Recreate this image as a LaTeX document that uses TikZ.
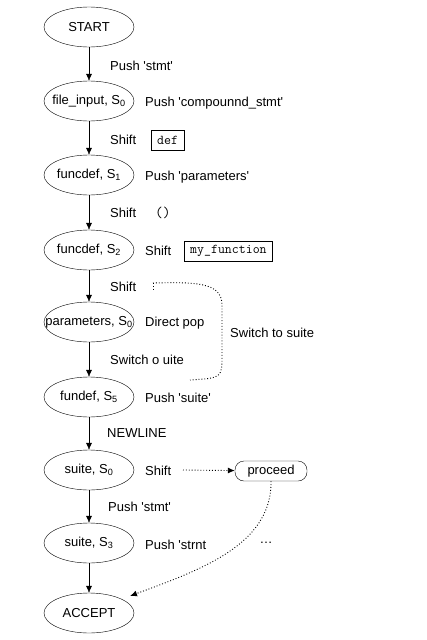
\documentclass[tikz,border=0pt]{standalone}
\usepackage{fontspec}
\setmainfont{Liberation Sans}
\usetikzlibrary{shapes.geometric,arrows.meta}
\newcommand{\sq}{\textquotesingle}

\tikzset{
  state/.style={ellipse,draw,minimum width=90pt,minimum height=40pt,inner sep=0pt},
  act/.style={anchor=west,inner sep=0pt},
  tok/.style={draw,anchor=west,font=\fontsize{13.5}{15}\ttfamily,minimum height=20pt,inner xsep=6pt,inner ysep=0pt},
}

\begin{document}
\begin{tikzpicture}[x=1pt,y=-1pt,>={Latex[length=7pt,width=6pt]},font=\fontsize{13}{15}\selectfont]
\useasboundingbox (0,0) rectangle (427,640);
% states
\node[state](1) at (89,27) {\makebox[0pt]{START}};
\node[state](2) at (89,101) {\makebox[0pt]{file\_input, S\textsubscript{0}}};
\node[state](3) at (89,175) {\makebox[0pt]{funcdef, S\textsubscript{1}}};
\node[state](4) at (89,250) {\makebox[0pt]{funcdef, S\textsubscript{2}}};
\node[state](5) at (89,322) {\makebox[0pt]{parameters, S\textsubscript{0}}};
\node[state](6) at (89,397) {\makebox[0pt]{fundef, S\textsubscript{5}}};
\node[state](7) at (89,470) {\makebox[0pt]{suite, S\textsubscript{0}}};
\node[state](8) at (89,543) {\makebox[0pt]{suite, S\textsubscript{3}}};
\node[state](9) at (89,613) {\makebox[0pt]{ACCEPT}};
\foreach \a/\b in {1/2,2/3,3/4,4/5,5/6,6/7,7/8,8/9}
  \draw[->] (\a) -- (\b);
% labels on the arrows
\node[act](e1) at (110,66) {Push \sq stmt\sq};
\node[act](e2) at (110,140) {Shift};
\node[act](e3) at (110,213) {Shift};
\node[act](e4) at (110,287) {Shift};
\node[act](e5) at (110,360) {Switch o uite};
\node[act](e6) at (107,433) {NEWLINE};
\node[act](e7) at (108,507) {Push \sq stmt\sq};
% labels beside the states
\node[act](a2) at (145,103) {Push \sq compounnd\_stmt\sq};
\node[act](a3) at (145,177) {Push \sq parameters\sq};
\node[act](a4) at (145,251) {Shift};
\node[act](a5) at (145,323) {Direct pop};
\node[act](a6) at (145,398) {Push \sq suite\sq};
\node[act](a7) at (145,471) {Shift};
\node[act](a8) at (145,545) {Push \sq strnt};
% tokens
\node[tok](t1) at (151,140) {def};
\node[act,font=\fontsize{15}{17}\ttfamily](t2) at (155,213) {()};
\node[tok](t3) at (184,251) {my\_function};
\node[act](sw) at (230,333) {Switch to suite};
\node[draw,rounded corners=9pt,minimum width=72pt,minimum height=20pt,inner sep=0pt](p) at (271,471) {proceed};
\node(dots) at (266,543) {\dots};
% dotted paths
\coordinate (c1) at (153,283);
\coordinate (c2) at (190,380);
\coordinate (c3) at (183,470);
\coordinate (c4) at (130,596);
\draw[dotted,line width=0.9pt] (c1) -- ++(0,7);
\draw[dotted,line width=0.9pt] (c1) .. controls (195,282) and (222,282) .. (222,305) -- (222,355) .. controls (222,378) .. (c2);
\draw[dotted,line width=0.9pt,->] (c3) -- (p);
\draw[dotted,line width=0.9pt,->] (p.south) .. controls (272,545) and (200,570) .. (c4);
\end{tikzpicture}
\end{document}
